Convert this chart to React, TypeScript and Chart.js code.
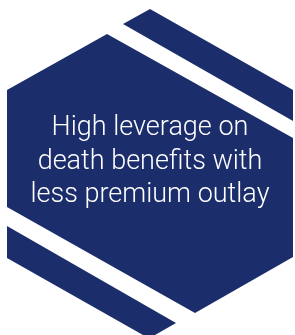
import React, { useEffect, useRef } from "react";
import { Chart, registerables } from "chart.js";

Chart.register(...registerables);

// Polygon vertices (x, y) of the three navy pieces of the hexagon badge
const mainX = [7, 107, 293, 293, 195, 7, 7];
const mainY = [90, 34, 138, 257, 313, 207, 90];
const topX = [123, 150, 293, 293, 123];
const topY = [24, 9, 90, 121, 24];
const bottomX = [7, 176, 155, 143, 7, 7];
const bottomY = [226, 323, 335, 335, 258, 226];

const textLines = ["High leverage on", "death benefits with", "less premium outlay"];

const NAVY = "#1b2e6b";

const toPoints = (xs: number[], ys: number[]) => xs.map((x, i) => ({ x, y: ys[i] }));

export default function App() {
  const ref = useRef<HTMLCanvasElement | null>(null);

  useEffect(() => {
    document.body.style.margin = "0";
    if (!ref.current) return;
    const mk = (xs: number[], ys: number[]) => ({
      data: toPoints(xs, ys),
      showLine: true,
      fill: "shape" as any,
      backgroundColor: NAVY,
      borderColor: "rgba(0,0,0,0)",
      borderWidth: 0,
      pointRadius: 0,
      tension: 0,
    });
    const chart = new Chart(ref.current, {
      type: "scatter",
      data: {
        datasets: [mk(mainX, mainY), mk(topX, topY), mk(bottomX, bottomY)],
      },
      options: {
        animation: false,
        responsive: false,
        maintainAspectRatio: false,
        layout: { padding: 0 },
        plugins: { legend: { display: false }, tooltip: { enabled: false } },
        scales: {
          x: { type: "linear", min: 0, max: 295, display: false },
          y: { type: "linear", min: 0, max: 335, reverse: true, display: false },
        },
      },
    });
    return () => chart.destroy();
  }, []);

  return (
    <div style={{ position: "fixed", left: 0, top: 0, width: 295, height: 335, background: "#fff" }}>
      <canvas ref={ref} width={295} height={335} style={{ position: "absolute", left: 0, top: 0 }} />
      <div
        style={{
          position: "absolute",
          left: 0,
          top: 110,
          width: 300,
          textAlign: "center",
          color: "#fff",
          fontFamily: "Roboto, 'Liberation Sans', sans-serif",
          fontWeight: 300,
          fontSize: 27,
          lineHeight: "33.5px",
        }}
      >
        {textLines.map((t) => (
          <div key={t}>{t}</div>
        ))}
      </div>
    </div>
  );
}
